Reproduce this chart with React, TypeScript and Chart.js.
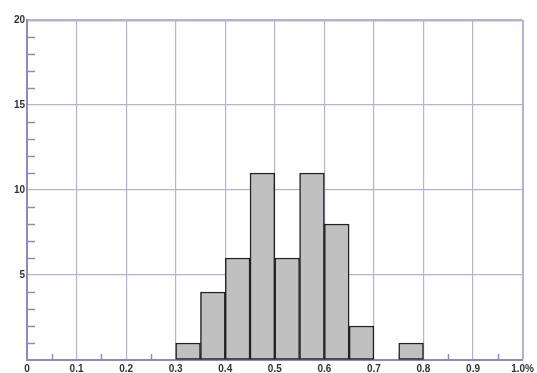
import React, { useEffect, useRef } from "react";
import { Chart, registerables } from "chart.js";

Chart.register(...registerables);

const binStarts = [0.3, 0.35, 0.4, 0.45, 0.5, 0.55, 0.6, 0.65, 0.75];
const counts = [1, 4, 6, 11, 6, 11, 8, 2, 1];
const binWidth = 0.05;
const xTickLabels = ["0", "0.1", "0.2", "0.3", "0.4", "0.5", "0.6", "0.7", "0.8", "0.9", "1.0%"];
const yTickLabels = ["", "5", "10", "15", "20"];
const xMinorTicks = [0.05, 0.15, 0.25, 0.35, 0.45, 0.55, 0.65, 0.75, 0.85, 0.95];
const yMinorTicks = [1, 2, 3, 4, 6, 7, 8, 9, 11, 12, 13, 14, 16, 17, 18, 19];

const AXIS = "#8a8ac6";
const GRID = "#b2b2da";

const minorTicksPlugin = {
  id: "minorTicks",
  beforeDatasetsDraw(chart: any) {
    const { ctx, chartArea, scales } = chart;
    ctx.save();
    ctx.strokeStyle = AXIS;
    ctx.lineWidth = 1.5;
    ctx.beginPath();
    for (const v of yMinorTicks) {
      const y = Math.round(scales.y.getPixelForValue(v)) + 0.5;
      ctx.moveTo(chartArea.left, y);
      ctx.lineTo(chartArea.left + 8, y);
    }
    for (const v of xMinorTicks) {
      const x = Math.round(scales.x.getPixelForValue(v)) + 0.5;
      ctx.moveTo(x, chartArea.bottom);
      ctx.lineTo(x, chartArea.bottom - 6);
    }
    ctx.stroke();
    ctx.restore();
  },
};

export default function App() {
  const ref = useRef<HTMLCanvasElement | null>(null);
  useEffect(() => {
    if (!ref.current) return;
    const chart = new Chart(ref.current, {
      type: "bar",
      data: {
        datasets: [
          {
            data: binStarts.map((b, i) => ({ x: b + binWidth / 2, y: counts[i] })),
            backgroundColor: "#c0c0c0",
            borderColor: "#222222",
            borderWidth: 1.5,
            borderSkipped: false,
            barPercentage: 1,
            categoryPercentage: 1,
          },
        ],
      },
      options: {
        animation: false,
        responsive: false,
        layout: { padding: { top: 20, right: 12, left: 0, bottom: 0 } },
        plugins: { legend: { display: false }, tooltip: { enabled: false } },
        scales: {
          x: {
            type: "linear",
            min: 0,
            max: 1,
            offset: false,
            afterFit: (s: any) => {
              s.height = 13;
            },
            grid: {
              offset: false,
              color: GRID,
              lineWidth: (c: any) => (c.tick && c.tick.value >= 1 ? 2 : 1.2),
              drawTicks: false,
            },
            border: { color: AXIS, width: 2 },
            ticks: {
              stepSize: 0.1,
              padding: 3,
              maxRotation: 0,
              autoSkip: false,
              color: "#333",
              font: { family: "Liberation Sans", size: 10, weight: "bold" },
              callback: (_v: any, i: number) => xTickLabels[i],
            },
          },
          y: {
            min: 0,
            max: 20,
            afterFit: (s: any) => {
              s.width = 27;
            },
            grid: {
              color: GRID,
              lineWidth: (c: any) => (c.tick && c.tick.value >= 20 ? 2.5 : 1.2),
              drawTicks: false,
            },
            border: { color: AXIS, width: 2 },
            ticks: {
              stepSize: 5,
              padding: 2,
              color: "#333",
              font: { family: "Liberation Sans", size: 10, weight: "bold" },
              callback: (_v: any, i: number) => yTickLabels[i],
            },
          },
        },
      },
      plugins: [minorTicksPlugin],
    });
    return () => chart.destroy();
  }, []);
  return (
    <div style={{ position: "absolute", left: 0, top: 0, width: 537, height: 373, background: "#fff" }}>
      <canvas ref={ref} width={537} height={373} />
    </div>
  );
}
